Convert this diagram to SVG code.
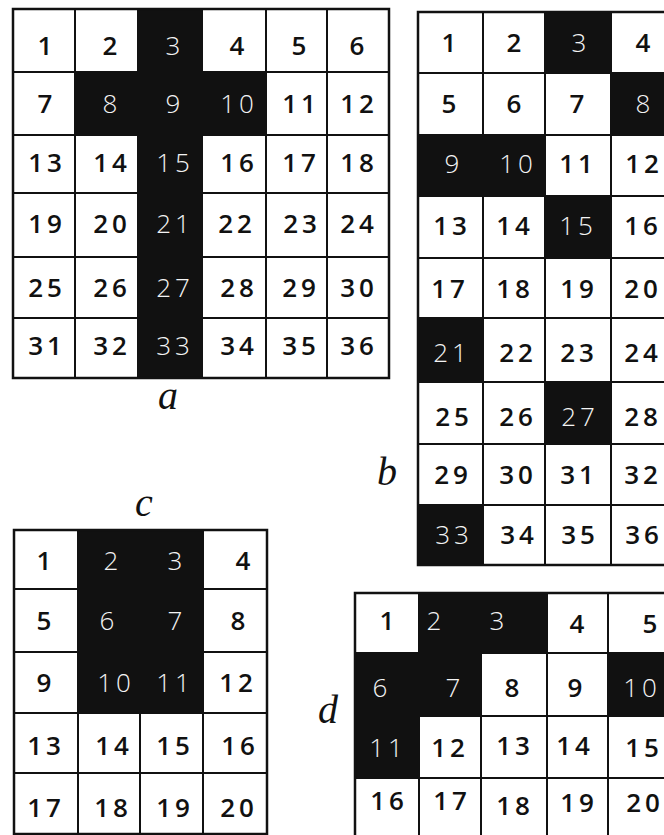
<svg xmlns="http://www.w3.org/2000/svg" width="664" height="835" viewBox="0 0 664 835">
<style>
.bg{fill:#fff}
.blk{fill:#111}
.ln{stroke:#111;stroke-width:2;fill:none}
.ob{stroke:#111;stroke-width:2.5;fill:none}
.n{font-family:"Open Sans","Liberation Sans",sans-serif;font-size:26px;font-weight:600;fill:#111;text-anchor:middle;letter-spacing:4px}
.w{font-family:"Open Sans","Liberation Sans",sans-serif;font-size:26px;font-weight:300;fill:#f4f4f4;text-anchor:middle;letter-spacing:4px}
.lb{font-family:"Liberation Serif","Times New Roman",serif;font-style:italic;font-size:40px;fill:#111;text-anchor:middle}
</style>
<rect class="bg" x="0" y="0" width="664" height="835"/>

<g id="grid-a">
<rect class="blk" x="138" y="9" width="64" height="369"/>
<rect class="blk" x="75" y="72" width="191" height="63"/>
<path class="ln" d="M75 9V378M138 9V378M202 9V378M266 9V378M327 9V378M13 72H389M13 135H389M13 193H389M13 257H389M13 318H389"/>
<rect class="ob" x="13" y="9" width="376" height="369"/>
<g transform="translate(2,0)">
<text class="n" x="45" y="55">1</text><text class="n" x="110" y="55">2</text><text class="w" x="173" y="55">3</text><text class="n" x="237" y="55">4</text><text class="n" x="299" y="55">5</text><text class="n" x="357" y="55">6</text>
<text class="n" x="45" y="113">7</text><text class="w" x="110" y="113">8</text><text class="w" x="173" y="113">9</text><text class="w" x="237" y="113">10</text><text class="n" x="299" y="113">11</text><text class="n" x="357" y="113">12</text>
<text class="n" x="45" y="172">13</text><text class="n" x="110" y="172">14</text><text class="w" x="173" y="172">15</text><text class="n" x="237" y="172">16</text><text class="n" x="299" y="172">17</text><text class="n" x="357" y="172">18</text>
<text class="n" x="45" y="233">19</text><text class="n" x="110" y="233">20</text><text class="w" x="173" y="233">21</text><text class="n" x="235" y="233">22</text><text class="n" x="300" y="233">23</text><text class="n" x="357" y="233">24</text>
<text class="n" x="45" y="297">25</text><text class="n" x="110" y="297">26</text><text class="w" x="173" y="297">27</text><text class="n" x="237" y="297">28</text><text class="n" x="299" y="297">29</text><text class="n" x="357" y="297">30</text>
<text class="n" x="45" y="355">31</text><text class="n" x="110" y="355">32</text><text class="w" x="173" y="355">33</text><text class="n" x="237" y="355">34</text><text class="n" x="299" y="355">35</text><text class="n" x="357" y="355">36</text>
</g>
<text class="lb" x="168" y="409">a</text>
</g>

<g id="grid-b">
<rect class="blk" x="545" y="12" width="66" height="61"/>
<rect class="blk" x="611" y="73" width="60" height="62"/>
<rect class="blk" x="418" y="135" width="127" height="61"/>
<rect class="blk" x="545" y="196" width="66" height="62"/>
<rect class="blk" x="418" y="318" width="65" height="64"/>
<rect class="blk" x="545" y="382" width="66" height="62"/>
<rect class="blk" x="418" y="505" width="65" height="60"/>
<path class="ln" d="M483 12V565M545 12V565M611 12V565M418 73H664M418 135H664M418 196H664M418 258H664M418 318H664M418 382H664M418 444H664M418 505H664"/>
<path class="ob" d="M664 12H418V565H664"/>
<g transform="translate(2,0)">
<text class="n" x="449" y="52">1</text><text class="n" x="514" y="52">2</text><text class="w" x="579" y="52">3</text><text class="n" x="643" y="52">4</text>
<text class="n" x="449" y="113">5</text><text class="n" x="514" y="113">6</text><text class="n" x="577" y="113">7</text><text class="w" x="643" y="113">8</text>
<text class="w" x="452" y="173">9</text><text class="w" x="516" y="173">10</text><text class="n" x="576" y="173">11</text><text class="n" x="642" y="173">12</text>
<text class="n" x="450" y="235">13</text><text class="n" x="513" y="235">14</text><text class="w" x="576" y="235">15</text><text class="n" x="641" y="235">16</text>
<text class="n" x="448" y="298">17</text><text class="n" x="513" y="298">18</text><text class="n" x="577" y="298">19</text><text class="n" x="641" y="298">20</text>
<text class="w" x="450" y="362">21</text><text class="n" x="516" y="362">22</text><text class="n" x="577" y="362">23</text><text class="n" x="641" y="362">24</text>
<text class="n" x="452" y="426">25</text><text class="n" x="516" y="426">26</text><text class="w" x="578" y="426">27</text><text class="n" x="641" y="426">28</text>
<text class="n" x="451" y="484">29</text><text class="n" x="516" y="484">30</text><text class="n" x="577" y="484">31</text><text class="n" x="641" y="484">32</text>
<text class="w" x="452" y="544">33</text><text class="n" x="517" y="544">34</text><text class="n" x="578" y="544">35</text><text class="n" x="642" y="544">36</text>
</g>
<text class="lb" x="387" y="485">b</text>
</g>

<g id="grid-c">
<rect class="blk" x="78" y="530" width="125" height="183"/>
<path class="ln" d="M78 530V834M140 713V834M203 530V834M14 589H267M14 652H267M14 713H267M14 773H267"/>
<rect class="ob" x="14" y="530" width="253" height="304"/>
<g transform="translate(2,0)">
<text class="n" x="44" y="570">1</text><text class="w" x="111" y="570">2</text><text class="w" x="175" y="570">3</text><text class="n" x="243" y="570">4</text>
<text class="n" x="44" y="630">5</text><text class="w" x="107" y="630">6</text><text class="w" x="175" y="630">7</text><text class="n" x="238" y="630">8</text>
<text class="n" x="44" y="692">9</text><text class="w" x="114" y="692">10</text><text class="w" x="173" y="692">11</text><text class="n" x="236" y="692">12</text>
<text class="n" x="44" y="755">13</text><text class="n" x="112" y="755">14</text><text class="n" x="173" y="755">15</text><text class="n" x="238" y="755">16</text>
<text class="n" x="44" y="817">17</text><text class="n" x="111" y="817">18</text><text class="n" x="173" y="817">19</text><text class="n" x="237" y="817">20</text>
</g>
<text class="lb" x="144" y="516">c</text>
</g>

<g id="grid-d">
<rect class="blk" x="419" y="593" width="128" height="60"/>
<rect class="blk" x="355" y="653" width="126" height="63"/>
<rect class="blk" x="608" y="653" width="64" height="63"/>
<rect class="blk" x="355" y="716" width="64" height="62"/>
<path class="ln" d="M419 593V840M481 593V840M547 593V840M608 593V840M355 653H664M355 716H664M355 778H664"/>
<path class="ob" d="M664 593H355V840"/>
<g transform="translate(2,0)">
<text class="n" x="387" y="630">1</text><text class="w" x="434" y="630">2</text><text class="w" x="497" y="630">3</text><text class="n" x="577" y="633">4</text><text class="n" x="650" y="633">5</text>
<text class="w" x="380" y="697">6</text><text class="w" x="453" y="697">7</text><text class="n" x="512" y="697">8</text><text class="n" x="575" y="697">9</text><text class="w" x="640" y="697">10</text>
<text class="w" x="386" y="757">11</text><text class="n" x="448" y="757">12</text><text class="n" x="513" y="755">13</text><text class="n" x="573" y="755">14</text><text class="n" x="642" y="757">15</text>
<text class="n" x="387" y="810">16</text><text class="n" x="450" y="810">17</text><text class="n" x="513" y="815">18</text><text class="n" x="577" y="812">19</text><text class="n" x="643" y="812">20</text>
</g>
<text class="lb" x="328" y="723">d</text>
</g>
</svg>
